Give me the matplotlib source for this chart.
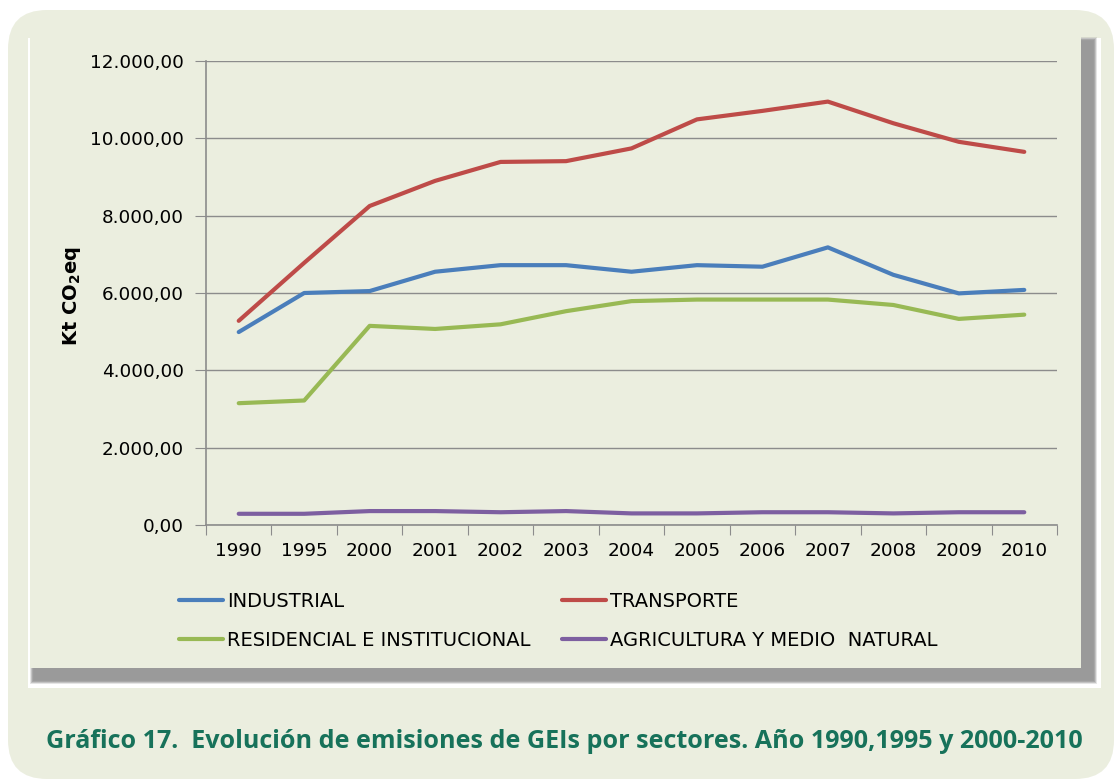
import numpy as np
import matplotlib.pyplot as plt
from matplotlib.patches import FancyBboxPatch, Rectangle
from matplotlib.ticker import FuncFormatter, FixedLocator

# datos (Kt CO2eq)
years = ["1990", "1995", "2000", "2001", "2002", "2003", "2004",
         "2005", "2006", "2007", "2008", "2009", "2010"]
industrial = [4990, 6000, 6050, 6550, 6720, 6720, 6550, 6720, 6680, 7180, 6470, 5990, 6080]
transporte = [5280, 6780, 8250, 8900, 9390, 9410, 9740, 10490, 10710, 10950, 10390, 9910, 9650]
residencial = [3150, 3220, 5150, 5070, 5190, 5530, 5790, 5830, 5830, 5830, 5690, 5330, 5440]
agricultura = [290, 290, 360, 360, 330, 360, 300, 300, 330, 330, 300, 330, 330]

bg = "#ebeedf"
grid_col = "#8c8c8c"

plt.rcParams['font.family'] = ['DejaVu Sans']

W, H = 1115, 780
fig = plt.figure(figsize=(W / 100, H / 100), dpi=100, facecolor="white")

def fx(px):
    return px / W

def fy(py):
    return 1 - py / H

def box(x0, y0, x1, y1, **kw):
    # rectangulo en pixeles (origen arriba a la izquierda)
    r = Rectangle((fx(x0), fy(y1)), fx(x1 - x0), (y1 - y0) / H,
                  transform=fig.transFigure, edgecolor="none", **kw)
    fig.add_artist(r)
    return r

# panel exterior redondeado
outer = FancyBboxPatch((fx(8), fy(779)), fx(1106), 769 / H,
                       boxstyle="round,pad=0,rounding_size=0.035",
                       transform=fig.transFigure, facecolor=bg, edgecolor="none",
                       mutation_aspect=W / H, zorder=0)
fig.add_artist(outer)

# sombra difusa de la caja del grafico
box(28, 36, 1101, 688, facecolor="white", zorder=1)
box(28, 36, 1101, 38, facecolor=bg, zorder=1)
for i, a in enumerate([0.25, 0.45, 0.65, 0.85, 1.0]):
    d = 5 - i
    box(30 + i, 37 + i, 1092 + d, 679 + d, facecolor="#9a9a9a", alpha=a, zorder=1)
box(30, 36, 1081, 668, facecolor=bg, zorder=2)
box(28, 44, 30, 668, facecolor="white", zorder=2)

ax = fig.add_axes([fx(206), fy(525), fx(851), 464 / H], zorder=3)
ax.set_facecolor("none")

x = np.arange(len(years))
ax.plot(x, industrial, color="#4a7ebb", lw=3, label="INDUSTRIAL", solid_capstyle="round")
ax.plot(x, transporte, color="#be4b48", lw=3, label="TRANSPORTE", solid_capstyle="round")
ax.plot(x, residencial, color="#98b954", lw=3, label="RESIDENCIAL E INSTITUCIONAL", solid_capstyle="round")
ax.plot(x, agricultura, color="#7d5fa0", lw=3, label="AGRICULTURA Y MEDIO  NATURAL", solid_capstyle="round")

ax.set_xlim(-0.5, len(years) - 0.5)
ax.set_ylim(0, 12000)
ax.set_yticks(np.arange(0, 12001, 2000))

def fmt(v, pos):
    s = f"{v:,.2f}"
    return s.replace(",", "X").replace(".", ",").replace("X", ".")

ax.yaxis.set_major_formatter(FuncFormatter(fmt))
ax.xaxis.set_major_locator(FixedLocator(np.arange(-0.5, len(years), 1.0)))
ax.xaxis.set_major_formatter(FuncFormatter(lambda v, p: ""))
ax.xaxis.set_minor_locator(FixedLocator(x))
ax.set_xticklabels(years, minor=True)

ax.tick_params(axis="x", which="major", length=7, color=grid_col, direction="out")
ax.tick_params(axis="x", which="minor", length=0, pad=12, labelsize=13.3)
ax.tick_params(axis="y", length=8, color=grid_col, pad=8, labelsize=13.2)

ax.grid(axis="y", color=grid_col, lw=1)
ax.set_axisbelow(True)
for s in ["top", "right"]:
    ax.spines[s].set_visible(False)
for s in ["left", "bottom"]:
    ax.spines[s].set_color(grid_col)
    ax.spines[s].set_linewidth(1.2)

fig.text(fx(72), fy(296), r"Kt CO$_\mathbf{2}$eq", rotation=90, ha="center", va="center",
         fontsize=14, fontweight="bold", zorder=4)

lines = ax.get_lines()
leg_kw = dict(loc="center left", frameon=False, fontsize=14, handlelength=2.3,
              handletextpad=0.2, labelspacing=1.05)
leg1 = fig.legend([lines[0], lines[2]], [l.get_label() for l in (lines[0], lines[2])],
                  bbox_to_anchor=(fx(161), fy(621)), **leg_kw)
leg2 = fig.legend([lines[1], lines[3]], [l.get_label() for l in (lines[1], lines[3])],
                  bbox_to_anchor=(fx(544), fy(621)), **leg_kw)
leg1.set_zorder(4)
leg2.set_zorder(4)

fig.text(fx(564), fy(742), "Gráfico 17.  Evolución de emisiones de GEIs por sectores. Año 1990,1995 y 2000-2010",
         ha="center", va="center", fontsize=18.1, fontweight="bold", color="#17725a",
         family=["Open Sans", "DejaVu Sans"], zorder=4)

fig.savefig("out.png", dpi=100, facecolor="white")
